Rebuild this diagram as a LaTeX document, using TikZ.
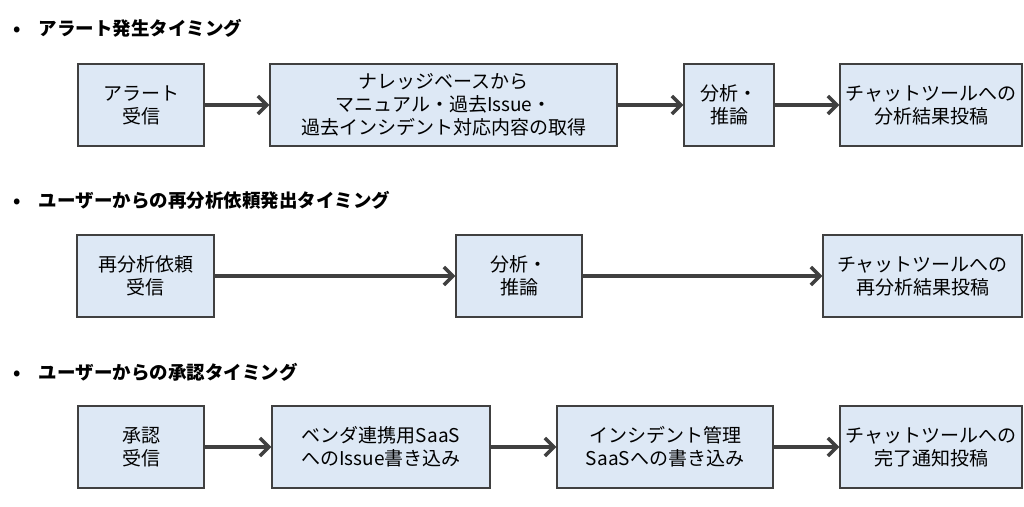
\documentclass[tikz,border=0pt]{standalone}
\usepackage{fontspec}
\setmainfont{Noto Sans CJK JP}
\usetikzlibrary{arrows.meta}
\definecolor{bx}{HTML}{DDE8F5}
\definecolor{ln}{HTML}{404040}
\begin{document}
\begin{tikzpicture}[x=1pt,y=-1pt,
 box/.style={draw=ln,line width=1.2pt,fill=bx,align=center,font=\fontsize{19}{23}\selectfont,inner sep=0pt},
 ar/.style={draw=ln,line width=4pt,-{Straight Barb[length=9pt,width=18pt,line width=3.5pt]}},
 hd/.style={anchor=west,font=\bfseries\fontsize{18.5}{22}\selectfont}]
\useasboundingbox (0,0) rectangle (1024,506);
\def\bx#1#2#3#4#5{\node[box,minimum width=#3-#2,minimum height=82] (#1) at ({(#2+#3)/2},#4) {#5};}
\node[hd] (h1) at (10,28) {•\hspace{18pt}アラート発生タイミング};
\node[hd] (h2) at (10,200) {•\hspace{18pt}ユーザーからの再分析依頼発出タイミング};
\node[hd] (h3) at (10,372) {•\hspace{18pt}ユーザーからの承認タイミング};
\bx{a1}{78}{204}{105}{アラート\\受信}
\bx{a2}{270}{617}{105}{ナレッジベースから\\マニュアル・過去Issue・\\過去インシデント対応内容の取得}
\bx{a3}{684}{774}{105}{分析・\\推論}
\bx{a4}{840}{1022}{105}{チャットツールへの\\分析結果投稿}
\bx{b1}{77}{214}{276}{再分析依頼\\受信}
\bx{b2}{456}{582}{276}{分析・\\推論}
\bx{b3}{823}{1022}{276}{チャットツールへの\\再分析結果投稿}
\bx{c1}{78}{204}{447}{承認\\受信}
\bx{c2}{272}{490}{447}{ベンダ連携用SaaS\\へのIssue書き込み}
\bx{c3}{557}{773}{447}{インシデント管理\\SaaSへの書き込み}
\bx{c4}{840}{1022}{447}{チャットツールへの\\完了通知投稿}
\draw[ar] (a1)--(a2); \draw[ar] (a2)--(a3); \draw[ar] (a3)--(a4);
\draw[ar] (b1)--(b2); \draw[ar] (b2)--(b3);
\draw[ar] (c1)--(c2); \draw[ar] (c2)--(c3); \draw[ar] (c3)--(c4);
\end{tikzpicture}
\end{document}
